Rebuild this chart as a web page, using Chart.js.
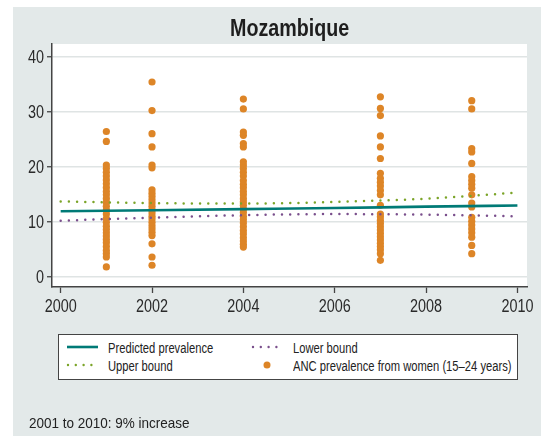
<!DOCTYPE html>
<html>
<head>
<meta charset="utf-8">
<script src="https://cdn.jsdelivr.net/npm/chart.js"></script>
<style>
  body { margin: 0; background: #fff; font-family: "Liberation Sans", Arial, sans-serif; color: #222; }
  #panel { position: absolute; left: 13px; top: 7px; width: 528px; height: 429px; background: #e3e9e9; }
  #c { position: absolute; left: 0; top: 0; }
  .txt { position: absolute; white-space: nowrap; transform-origin: 0 0; }
  #title { left: 52px; width: 475px; top: 16px; text-align: center; }
  #title span { display: inline-block; font-weight: bold; font-size: 24px; line-height: 24px; color: #1e1e1e; transform: scaleX(0.82); }
  #legend { position: absolute; left: 58px; top: 334px; width: 460px; height: 46px; box-sizing: border-box; border: 1.5px solid #444; background: #fff; }
  .lg { font-size: 14px; line-height: 14px; color: #222; transform: scaleX(0.8); }
  #note { left: 29px; top: 415px; font-size: 15px; line-height: 15px; color: #222; transform: scaleX(0.9); }
  svg { position: absolute; }
</style>
</head>
<body>
<div id="panel"></div>
<canvas id="c" width="545" height="436"></canvas>
<div id="title" class="txt"><span>Mozambique</span></div>

<div id="legend"></div>
<svg style="left:60px;top:340px" width="460" height="36" viewBox="60 340 460 36">
  <line x1="67" y1="347" x2="98" y2="347" stroke="#007a76" stroke-width="2.6"/>
  <line x1="68" y1="365" x2="98" y2="365" stroke="#7ba428" stroke-width="2.4" stroke-linecap="round" stroke-dasharray="0 7.8"/>
  <line x1="253" y1="347" x2="283" y2="347" stroke="#7a4f8c" stroke-width="2.4" stroke-linecap="round" stroke-dasharray="0 7.8"/>
  <circle cx="267" cy="365" r="3.5" fill="#dd8527"/>
</svg>
<div class="txt lg" style="left:108px;top:341px">Predicted prevalence</div>
<div class="txt lg" style="left:108px;top:359px">Upper bound</div>
<div class="txt lg" style="left:293px;top:341px">Lower bound</div>
<div class="txt lg" style="left:293px;top:359px">ANC prevalence from women (15–24 years)</div>

<div id="note" class="txt">2001 to 2010: 9% increase</div>

<script>
// survey years and ANC prevalence readings (%)
const surveyYears = [2001, 2002, 2004, 2007, 2009];
const anc2001 = [26.4, 24.6, 20.3, 19.7, 19.0, 18.3, 17.6, 16.9, 16.2, 15.5, 14.9, 14.2, 13.5, 12.8, 12.1,
  11.4, 10.6, 9.9, 9.2, 8.6, 8.0, 7.4, 6.8, 6.2, 5.5, 4.8, 4.2, 3.6, 1.8];
const anc2002 = [35.4, 30.2, 26.0, 23.6, 20.3, 19.8, 15.8, 15.2, 14.6, 14.0, 13.4, 12.8, 12.2, 11.6,
  11.0, 10.5, 9.9, 9.3, 8.7, 8.1, 7.5, 6.0, 3.6, 2.1];
const anc2004 = [32.3, 30.5, 26.3, 25.7, 24.2, 23.6, 20.9, 20.3, 19.7, 19.0, 18.3, 17.5, 16.8, 16.2, 15.5,
  14.9, 14.2, 13.6, 13.0, 12.3, 11.7, 11.0, 10.4, 9.8, 9.1, 8.4, 7.8, 7.1, 6.5, 5.9, 5.4];
const anc2007 = [32.7, 30.6, 29.3, 25.6, 23.6, 21.5, 18.8, 17.9, 17.2, 16.5, 15.7, 14.9, 13.0,
  11.4, 10.9, 10.3, 9.7, 9.1, 8.5, 7.9, 7.3, 6.7, 6.1, 5.5, 4.9, 4.2, 3.0];
const anc2009 = [32.0, 30.5, 23.3, 22.7, 20.6, 18.2, 17.5, 16.8, 16.1, 14.9, 13.4, 12.7,
  10.8, 10.1, 9.4, 8.7, 8.0, 7.2, 5.7, 4.2];

// modelled curves
const curveYears = [2000, 2002, 2004, 2006, 2008, 2010];
const predicted = [11.9, 12.1, 12.3, 12.5, 12.75, 12.95];
const upperBound = [13.7, 13.4, 13.3, 13.6, 14.2, 15.3];
const lowerBound = [10.2, 10.75, 11.2, 11.4, 11.3, 11.0];

const yTicks = [0, 10, 20, 30, 40];
const xTicks = [2000, 2002, 2004, 2006, 2008, 2010];

const ancByYear = [anc2001, anc2002, anc2004, anc2007, anc2009];
const ancPoints = [];
surveyYears.forEach((yr, i) => {
  ancByYear[i].forEach(v => ancPoints.push({x: yr, y: v}));
});
const curve = vals => curveYears.map((yr, i) => ({x: yr, y: vals[i]}));

// white plot background
const plotBg = {
  id: 'plotBg',
  beforeDraw(chart) {
    const a = chart.chartArea, ctx = chart.ctx;
    ctx.save();
    ctx.fillStyle = '#fff';
    ctx.fillRect(a.left, a.top, a.right - a.left, a.bottom - a.top);
    ctx.restore();
  }
};

// tick labels in a narrow face (squeezed Liberation Sans)
const narrowTicks = {
  id: 'narrowTicks',
  afterDraw(chart) {
    const ctx = chart.ctx;
    const xs = chart.scales.x, ys = chart.scales.y;
    ctx.save();
    ctx.font = '18px "Liberation Sans", Arial, sans-serif';
    ctx.fillStyle = '#2a2a2a';
    ctx.textBaseline = 'alphabetic';
    xs.ticks.forEach((t, i) => {
      ctx.save();
      ctx.translate(xs.getPixelForTick(i), 312);
      ctx.scale(0.8, 1);
      ctx.textAlign = 'center';
      ctx.fillText(String(t.value), 0, 0);
      ctx.restore();
    });
    ys.ticks.forEach((t, i) => {
      ctx.save();
      ctx.translate(44, ys.getPixelForTick(i) + 6.4);
      ctx.scale(0.8, 1);
      ctx.textAlign = 'right';
      ctx.fillText(String(t.value), 0, 0);
      ctx.restore();
    });
    ctx.restore();
  }
};

const dotted = (color) => ({
  type: 'line',
  borderColor: color,
  borderWidth: 2.5,
  borderDash: [0, 8.2],
  borderCapStyle: 'round',
  pointRadius: 0,
  fill: false,
  cubicInterpolationMode: 'monotone',
  showLine: true
});

new Chart(document.getElementById('c'), {
  type: 'scatter',
  data: {
    datasets: [
      {
        label: 'ANC prevalence from women (15–24 years)',
        data: ancPoints,
        backgroundColor: '#dd8527',
        borderWidth: 0,
        pointRadius: 3.6,
        order: 3
      },
      Object.assign(dotted('#7ba428'), {label: 'Upper bound', data: curve(upperBound), order: 2}),
      Object.assign(dotted('#7a4f8c'), {label: 'Lower bound', data: curve(lowerBound), order: 2}),
      {
        type: 'line',
        label: 'Predicted prevalence',
        data: curve(predicted),
        borderColor: '#007a76',
        borderWidth: 2.6,
        pointRadius: 0,
        fill: false,
        cubicInterpolationMode: 'monotone',
        showLine: true,
        order: 1
      }
    ]
  },
  options: {
    responsive: false,
    animation: false,
    devicePixelRatio: 1,
    layout: { padding: { top: 44, right: 18, left: 0, bottom: 119 } },
    plugins: {
      legend: { display: false },
      title: { display: false },
      tooltip: { enabled: false }
    },
    scales: {
      x: {
        type: 'linear',
        min: 1999.81,
        max: 2010.21,
        afterBuildTicks: s => { s.ticks = xTicks.map(v => ({value: v})); },
        afterFit: s => { s.height = 30; },
        grid: { drawOnChartArea: false, tickLength: 6, tickColor: '#444', tickWidth: 1.3 },
        border: { color: '#444', width: 1.5 },
        ticks: { display: false }
      },
      y: {
        min: -1.85,
        max: 42.3,
        afterBuildTicks: s => { s.ticks = yTicks.map(v => ({value: v})); },
        afterFit: s => { s.width = 52; },
        grid: { color: '#dfe4e4', lineWidth: 1.5, tickLength: 5, tickColor: '#444', tickWidth: 1.3 },
        border: { color: '#444', width: 1.5 },
        ticks: { display: false }
      }
    }
  },
  plugins: [plotBg, narrowTicks]
});
</script>
</body>
</html>
